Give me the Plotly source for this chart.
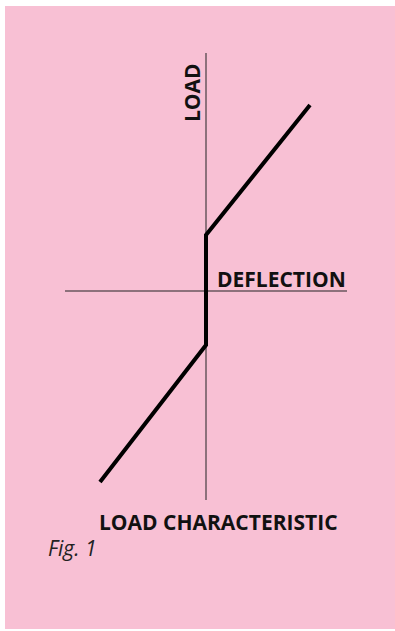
import plotly.graph_objects as go

# load characteristic (deflection, load) in chart units, origin at axis crossing
deflection = [-106, 0, 0, 104]
load = [-191, -54, 56, 186]

# axis extents
x_axis_ends = [-141, 141]
y_axis_ends = [-209, 238]

pink = "#F8C0D4"
ink = "#111111"

fig = go.Figure()

# background panel
fig.add_shape(type="rect", x0=-201, x1=189, y0=-338, y1=285,
              fillcolor=pink, line_width=0, layer="below")

# axes
fig.add_trace(go.Scatter(x=x_axis_ends, y=[0, 0], mode="lines",
                         line=dict(color="#222222", width=1), hoverinfo="skip"))
fig.add_trace(go.Scatter(x=[0, 0], y=y_axis_ends, mode="lines",
                         line=dict(color="#222222", width=1), hoverinfo="skip"))

# characteristic
fig.add_trace(go.Scatter(x=deflection, y=load, mode="lines",
                         line=dict(color="black", width=4), hoverinfo="skip"))

bold = dict(family="Open Sans", size=21, color=ink, weight="bold")

fig.add_annotation(x=142, y=12, text="DEFLECTION", showarrow=False,
                   xanchor="right", yanchor="middle", font=bold)
fig.add_annotation(x=-14, y=198, text="LOAD", showarrow=False, textangle=-90,
                   xanchor="center", yanchor="middle", font=bold)
fig.add_annotation(x=12, y=-231, text="LOAD CHARACTERISTIC", showarrow=False,
                   xanchor="center", yanchor="middle", font=bold)
fig.add_annotation(x=-160, y=-257, text="<i>Fig. 1</i>", showarrow=False,
                   xanchor="left", yanchor="middle",
                   font=dict(family="Open Sans", size=21, color="#222222"))

fig.update_layout(
    width=395, height=631,
    margin=dict(l=0, r=0, t=0, b=0),
    paper_bgcolor="white", plot_bgcolor="white",
    showlegend=False,
    xaxis=dict(range=[-206, 189], visible=False, fixedrange=True),
    yaxis=dict(range=[-340, 291], visible=False, fixedrange=True),
)

fig.write_html("out.html", config={"displayModeBar": False},
               post_script="document.body.style.margin='0';document.body.style.overflow='hidden';")
